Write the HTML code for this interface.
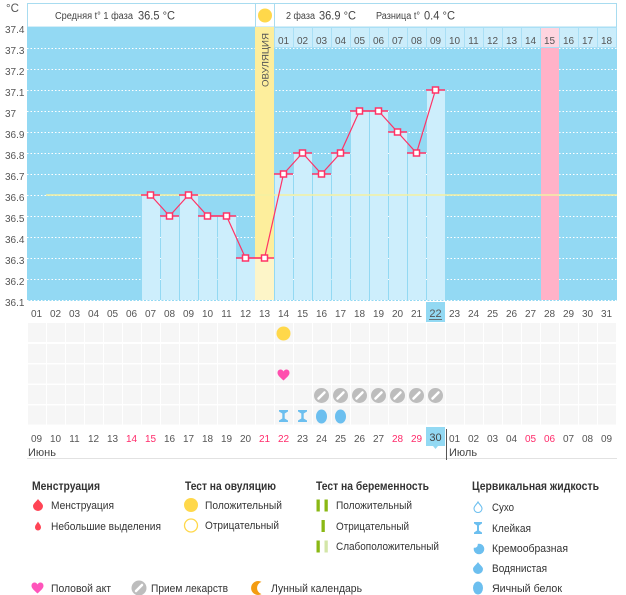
<!DOCTYPE html>
<html><head><meta charset="utf-8"><style>
html,body{margin:0;padding:0;background:#fff;}
svg{display:block;font-family:"Liberation Sans","DejaVu Sans",sans-serif;}
</style></head><body>
<svg width="626" height="595" viewBox="0 0 626 595" xmlns="http://www.w3.org/2000/svg">
<!-- unit -->
<text x="6" y="12" font-size="11.5" fill="#555">°C</text>
<!-- header -->
<rect x="27.5" y="3.5" width="589" height="23.5" fill="#fff" stroke="#a8dcf0"/>
<line x1="255.5" y1="3" x2="255.5" y2="27" stroke="#a8dcf0"/>
<line x1="274.5" y1="3" x2="274.5" y2="27" stroke="#a8dcf0"/>
<text x="55" y="19" font-size="10" fill="#444" textLength="78" lengthAdjust="spacingAndGlyphs">Средняя t° 1 фаза</text>
<text x="138" y="19.5" font-size="12" fill="#444" textLength="37" lengthAdjust="spacingAndGlyphs">36.5 °C</text>
<text x="286" y="19" font-size="10" fill="#444" textLength="29" lengthAdjust="spacingAndGlyphs">2 фаза</text>
<text x="319" y="19.5" font-size="12" fill="#444" textLength="37" lengthAdjust="spacingAndGlyphs">36.9 °C</text>
<text x="376" y="19" font-size="10" fill="#444" textLength="44" lengthAdjust="spacingAndGlyphs">Разница t°</text>
<text x="424" y="19.5" font-size="12" fill="#444" textLength="31" lengthAdjust="spacingAndGlyphs">0.4 °C</text>
<circle cx="265" cy="15.5" r="7" fill="#ffd84a"/>
<!-- plot background -->
<rect x="27" y="27" width="590" height="274" fill="#93d9f3"/>
<g stroke="#ffffff" stroke-width="1" stroke-dasharray="1.5 2">
<line x1="27" y1="48.5" x2="617" y2="48.5"/>
<line x1="27" y1="69.5" x2="617" y2="69.5"/>
<line x1="27" y1="90.5" x2="617" y2="90.5"/>
<line x1="27" y1="111.5" x2="617" y2="111.5"/>
<line x1="27" y1="132.5" x2="617" y2="132.5"/>
<line x1="27" y1="153.5" x2="617" y2="153.5"/>
<line x1="27" y1="174.5" x2="617" y2="174.5"/>
<line x1="27" y1="195.5" x2="617" y2="195.5"/>
<line x1="27" y1="216.5" x2="617" y2="216.5"/>
<line x1="27" y1="237.5" x2="617" y2="237.5"/>
<line x1="27" y1="258.5" x2="617" y2="258.5"/>
<line x1="27" y1="279.5" x2="617" y2="279.5"/>
<line x1="27" y1="300.5" x2="617" y2="300.5"/>
</g>
<!-- top cells row -->
<rect x="274" y="27" width="343" height="21" fill="#aadff5"/>
<g fill="#cbedfb">
<rect x="275" y="28" width="18" height="19"/><rect x="294" y="28" width="18" height="19"/><rect x="313" y="28" width="18" height="19"/><rect x="332" y="28" width="18" height="19"/><rect x="351" y="28" width="18" height="19"/><rect x="370" y="28" width="18" height="19"/><rect x="389" y="28" width="18" height="19"/><rect x="408" y="28" width="18" height="19"/><rect x="427" y="28" width="18" height="19"/><rect x="446" y="28" width="18" height="19"/><rect x="465" y="28" width="18" height="19"/><rect x="484" y="28" width="18" height="19"/><rect x="503" y="28" width="18" height="19"/><rect x="522" y="28" width="18" height="19"/><rect x="560" y="28" width="18" height="19"/><rect x="579" y="28" width="18" height="19"/><rect x="598" y="28" width="18" height="19"/>
</g>
<rect x="541" y="28" width="18" height="19" fill="#ffd5e0"/>
<rect x="541" y="48" width="18" height="252" fill="#ffb2c8"/>
<g font-size="10" fill="#555" text-anchor="middle">
<text x="283.5" y="44">01</text><text x="302.5" y="44">02</text><text x="321.5" y="44">03</text><text x="340.5" y="44">04</text><text x="359.5" y="44">05</text><text x="378.5" y="44">06</text><text x="397.5" y="44">07</text><text x="416.5" y="44">08</text><text x="435.5" y="44">09</text><text x="454.5" y="44">10</text><text x="473.5" y="44">11</text><text x="492.5" y="44">12</text><text x="511.5" y="44">13</text><text x="530.5" y="44">14</text><text x="549.5" y="44">15</text><text x="568.5" y="44">16</text><text x="587.5" y="44">17</text><text x="606.5" y="44">18</text>
</g>
<!-- ovulation column -->
<rect x="255" y="27" width="19" height="231" fill="#fdee9c"/>
<rect x="255" y="258" width="19" height="42" fill="#fdf5c8"/>
<text transform="translate(268.5,87) rotate(-90)" font-size="9.5" fill="#555" textLength="54" lengthAdjust="spacingAndGlyphs">ОВУЛЯЦИЯ</text>
<!-- bars -->
<g fill="#cdeefc">
<rect x="142" y="195" width="18" height="105"/>
<rect x="161" y="216" width="18" height="84"/>
<rect x="180" y="195" width="18" height="105"/>
<rect x="199" y="216" width="18" height="84"/>
<rect x="218" y="216" width="18" height="84"/>
<rect x="237" y="258" width="18" height="42"/>
<rect x="275" y="174" width="18" height="126"/>
<rect x="294" y="153" width="18" height="147"/>
<rect x="313" y="174" width="18" height="126"/>
<rect x="332" y="153" width="18" height="147"/>
<rect x="351" y="111" width="18" height="189"/>
<rect x="370" y="111" width="18" height="189"/>
<rect x="389" y="132" width="18" height="168"/>
<rect x="408" y="153" width="18" height="147"/>
<rect x="427" y="90" width="18" height="210"/>
</g>
<!-- cover line -->
<line x1="46" y1="195" x2="617" y2="195" stroke="#f4f0a2" stroke-width="1.5"/>
<!-- bar tops -->
<g stroke="#ff3366" stroke-width="1.5">
<line x1="141" y1="195" x2="160" y2="195"/>
<line x1="160" y1="216" x2="179" y2="216"/>
<line x1="179" y1="195" x2="198" y2="195"/>
<line x1="198" y1="216" x2="217" y2="216"/>
<line x1="217" y1="216" x2="236" y2="216"/>
<line x1="236" y1="258" x2="255" y2="258"/>
<line x1="255" y1="258" x2="274" y2="258"/>
<line x1="274" y1="174" x2="293" y2="174"/>
<line x1="293" y1="153" x2="312" y2="153"/>
<line x1="312" y1="174" x2="331" y2="174"/>
<line x1="331" y1="153" x2="350" y2="153"/>
<line x1="350" y1="111" x2="369" y2="111"/>
<line x1="369" y1="111" x2="388" y2="111"/>
<line x1="388" y1="132" x2="407" y2="132"/>
<line x1="407" y1="153" x2="426" y2="153"/>
<line x1="426" y1="90" x2="445" y2="90"/>
</g>
<polyline fill="none" stroke="#ff3366" stroke-width="1.2" points="150.5,195 169.5,216 188.5,195 207.5,216 226.5,216 245.5,258 264.5,258 283.5,174 302.5,153 321.5,174 340.5,153 359.5,111 378.5,111 397.5,132 416.5,153 435.5,90"/>
<g fill="#fff" stroke="#ff3366" stroke-width="1.5">
<rect x="147.5" y="192" width="6" height="6"/><rect x="166.5" y="213" width="6" height="6"/><rect x="185.5" y="192" width="6" height="6"/><rect x="204.5" y="213" width="6" height="6"/><rect x="223.5" y="213" width="6" height="6"/><rect x="242.5" y="255" width="6" height="6"/><rect x="261.5" y="255" width="6" height="6"/><rect x="280.5" y="171" width="6" height="6"/><rect x="299.5" y="150" width="6" height="6"/><rect x="318.5" y="171" width="6" height="6"/><rect x="337.5" y="150" width="6" height="6"/><rect x="356.5" y="108" width="6" height="6"/><rect x="375.5" y="108" width="6" height="6"/><rect x="394.5" y="129" width="6" height="6"/><rect x="413.5" y="150" width="6" height="6"/><rect x="432.5" y="87" width="6" height="6"/>
</g>
<!-- y labels -->
<g font-size="10" fill="#555">
<text x="5" y="33">37.4</text><text x="5" y="54">37.3</text><text x="5" y="75">37.2</text><text x="5" y="96">37.1</text><text x="5" y="117">37</text><text x="5" y="138">36.9</text><text x="5" y="159">36.8</text><text x="5" y="180">36.7</text><text x="5" y="201">36.6</text><text x="5" y="222">36.5</text><text x="5" y="243">36.4</text><text x="5" y="264">36.3</text><text x="5" y="285">36.2</text><text x="5" y="306">36.1</text>
</g>
<!-- bottom day row 1 -->
<rect x="426" y="302" width="19" height="20" fill="#93d9f3"/>
<g font-size="10" fill="#555" text-anchor="middle">
<text x="36.5" y="317">01</text><text x="55.5" y="317">02</text><text x="74.5" y="317">03</text><text x="93.5" y="317">04</text><text x="112.5" y="317">05</text><text x="131.5" y="317">06</text><text x="150.5" y="317">07</text><text x="169.5" y="317">08</text><text x="188.5" y="317">09</text><text x="207.5" y="317">10</text><text x="226.5" y="317">11</text><text x="245.5" y="317">12</text><text x="264.5" y="317">13</text><text x="283.5" y="317">14</text><text x="302.5" y="317">15</text><text x="321.5" y="317">16</text><text x="340.5" y="317">17</text><text x="359.5" y="317">18</text><text x="378.5" y="317">19</text><text x="397.5" y="317">20</text><text x="416.5" y="317">21</text><text x="435.5" y="317" font-size="11">22</text><text x="454.5" y="317">23</text><text x="473.5" y="317">24</text><text x="492.5" y="317">25</text><text x="511.5" y="317">26</text><text x="530.5" y="317">27</text><text x="549.5" y="317">28</text><text x="568.5" y="317">29</text><text x="587.5" y="317">30</text><text x="606.5" y="317">31</text>
</g>
<line x1="429" y1="319.5" x2="442" y2="319.5" stroke="#555" stroke-width="0.8"/>
<!-- icon grid -->
<defs>
<pattern id="rowcells" x="27" y="0" width="19" height="595" patternUnits="userSpaceOnUse">
<rect x="1" y="0" width="18" height="595" fill="#f6f6f6"/>
</pattern>
</defs>
<rect x="27" y="323" width="589" height="19" fill="url(#rowcells)"/>
<rect x="27" y="344" width="589" height="19" fill="url(#rowcells)"/>
<rect x="27" y="364.5" width="589" height="19" fill="url(#rowcells)"/>
<rect x="27" y="385" width="589" height="19" fill="url(#rowcells)"/>
<rect x="27" y="405.5" width="589" height="19" fill="url(#rowcells)"/>
<!-- row icons -->
<circle cx="283.5" cy="333.5" r="7" fill="#ffd84a"/>
<path d="M283.5,380.5 C281.5,378.5 277.5,375.5 277.5,373 C277.5,370.5 279,369.5 280.5,369.5 C282,369.5 283,370.5 283.5,371.5 C284,370.5 285,369.5 286.5,369.5 C288,369.5 289.5,370.5 289.5,373 C289.5,375.5 285.5,378.5 283.5,380.5 Z" fill="#ff4fae"/>
<g>
<circle cx="321.5" cy="395.5" r="7.5" fill="#bdbdbd"/><circle cx="340.5" cy="395.5" r="7.5" fill="#bdbdbd"/><circle cx="359.5" cy="395.5" r="7.5" fill="#bdbdbd"/><circle cx="378.5" cy="395.5" r="7.5" fill="#bdbdbd"/><circle cx="397.5" cy="395.5" r="7.5" fill="#bdbdbd"/><circle cx="416.5" cy="395.5" r="7.5" fill="#bdbdbd"/><circle cx="435.5" cy="395.5" r="7.5" fill="#bdbdbd"/>
</g>
<g stroke="#fff" stroke-width="2.5" stroke-linecap="round">
<line x1="318.5" y1="398.5" x2="324.5" y2="392.5"/><line x1="337.5" y1="398.5" x2="343.5" y2="392.5"/><line x1="356.5" y1="398.5" x2="362.5" y2="392.5"/><line x1="375.5" y1="398.5" x2="381.5" y2="392.5"/><line x1="394.5" y1="398.5" x2="400.5" y2="392.5"/><line x1="413.5" y1="398.5" x2="419.5" y2="392.5"/><line x1="432.5" y1="398.5" x2="438.5" y2="392.5"/>
</g>
<g fill="#6cbfef">
<polygon points="279,410 288,410 288,411.5 284.7,413.5 284.7,418.5 288,420.5 288,422 279,422 279,420.5 282.3,418.5 282.3,413.5 279,411.5"/>
<polygon points="298,410 307,410 307,411.5 303.7,413.5 303.7,418.5 307,420.5 307,422 298,422 298,420.5 301.3,418.5 301.3,413.5 298,411.5"/>
<ellipse cx="321.5" cy="416.5" rx="5.5" ry="7"/>
<ellipse cx="340.5" cy="416.5" rx="5.5" ry="7"/>
</g>
<!-- bottom day row 2 -->
<rect x="426" y="427" width="19" height="19" fill="#93d9f3"/>
<polygon points="433,446 438,446 435.5,449" fill="#93d9f3"/>
<g font-size="10" fill="#555" text-anchor="middle">
<text x="36.5" y="442">09</text><text x="55.5" y="442">10</text><text x="74.5" y="442">11</text><text x="93.5" y="442">12</text><text x="112.5" y="442">13</text><text x="131.5" y="442" fill="#ff2a6a">14</text><text x="150.5" y="442" fill="#ff2a6a">15</text><text x="169.5" y="442">16</text><text x="188.5" y="442">17</text><text x="207.5" y="442">18</text><text x="226.5" y="442">19</text><text x="245.5" y="442">20</text><text x="264.5" y="442" fill="#ff2a6a">21</text><text x="283.5" y="442" fill="#ff2a6a">22</text><text x="302.5" y="442">23</text><text x="321.5" y="442">24</text><text x="340.5" y="442">25</text><text x="359.5" y="442">26</text><text x="378.5" y="442">27</text><text x="397.5" y="442" fill="#ff2a6a">28</text><text x="416.5" y="442" fill="#ff2a6a">29</text><text x="435.5" y="441" font-size="11" fill="#444">30</text><text x="454.5" y="442">01</text><text x="473.5" y="442">02</text><text x="492.5" y="442">03</text><text x="511.5" y="442">04</text><text x="530.5" y="442" fill="#ff2a6a">05</text><text x="549.5" y="442" fill="#ff2a6a">06</text><text x="568.5" y="442">07</text><text x="587.5" y="442">08</text><text x="606.5" y="442">09</text>
</g>
<line x1="27" y1="458.5" x2="617" y2="458.5" stroke="#e2e2e2"/>
<line x1="446.5" y1="429" x2="446.5" y2="460" stroke="#555"/>
<text x="28" y="456" font-size="11" fill="#444">Июнь</text>
<text x="449" y="456" font-size="11" fill="#444">Июль</text>
<!-- legend headers -->
<g font-size="11.5" font-weight="bold" fill="#333">
<text x="32" y="490" textLength="68" lengthAdjust="spacingAndGlyphs">Менструация</text>
<text x="185" y="490" textLength="91" lengthAdjust="spacingAndGlyphs">Тест на овуляцию</text>
<text x="316" y="490" textLength="113" lengthAdjust="spacingAndGlyphs">Тест на беременность</text>
<text x="472" y="490" textLength="127" lengthAdjust="spacingAndGlyphs">Цервикальная жидкость</text>
</g>
<g font-size="11" fill="#333">
<text x="51" y="509" textLength="63" lengthAdjust="spacingAndGlyphs">Менструация</text>
<text x="51" y="530" textLength="110" lengthAdjust="spacingAndGlyphs">Небольшие выделения</text>
<text x="205" y="509" textLength="77" lengthAdjust="spacingAndGlyphs">Положительный</text>
<text x="205" y="529" textLength="74" lengthAdjust="spacingAndGlyphs">Отрицательный</text>
<text x="336" y="509" textLength="76" lengthAdjust="spacingAndGlyphs">Положительный</text>
<text x="336" y="530" textLength="73" lengthAdjust="spacingAndGlyphs">Отрицательный</text>
<text x="336" y="550" textLength="103" lengthAdjust="spacingAndGlyphs">Слабоположительный</text>
<text x="492" y="511" textLength="22" lengthAdjust="spacingAndGlyphs">Сухо</text>
<text x="492" y="532" textLength="39" lengthAdjust="spacingAndGlyphs">Клейкая</text>
<text x="492" y="552" textLength="76" lengthAdjust="spacingAndGlyphs">Кремообразная</text>
<text x="492" y="572" textLength="55" lengthAdjust="spacingAndGlyphs">Водянистая</text>
<text x="492" y="592" textLength="70" lengthAdjust="spacingAndGlyphs">Яичный белок</text>
<text x="51" y="592" textLength="60" lengthAdjust="spacingAndGlyphs">Половой акт</text>
<text x="151" y="592" textLength="77" lengthAdjust="spacingAndGlyphs">Прием лекарств</text>
<text x="271" y="592" textLength="91" lengthAdjust="spacingAndGlyphs">Лунный календарь</text>
</g>
<!-- legend icons -->
<path d="M38,499 C39.5,501.5 43,503.5 43,506 A5,5 0 0 1 33,506 C33,503.5 36.5,501.5 38,499 Z" fill="#ff4455"/>
<path d="M38,521.5 C39,523.5 41,525 41,527.5 A3,3 0 0 1 35,527.5 C35,525 37,523.5 38,521.5 Z" fill="#ff4455"/>
<circle cx="191" cy="505" r="7" fill="#ffd84a"/>
<circle cx="191" cy="525.5" r="6.5" fill="#fff" stroke="#ffd84a" stroke-width="1.3"/>
<g fill="#8ab814">
<rect x="316.5" y="499.5" width="3.3" height="12"/><rect x="324.5" y="499.5" width="3.3" height="12"/>
<rect x="321.5" y="520" width="3.3" height="12"/>
<rect x="316.5" y="540.5" width="3.3" height="12"/>
</g>
<rect x="324.5" y="540.5" width="3.3" height="12" fill="#d3e6a8"/>
<path d="M478,502 C479,504 482,506 482,508.5 A4,4 0 0 1 474,508.5 C474,506 477,504 478,502 Z" fill="#fff" stroke="#6cbfef" stroke-width="1.1"/>
<polygon points="474,522 482,522 482,523.5 479,525.5 479,530.5 482,532.5 482,534 474,534 474,532.5 477,530.5 477,525.5 474,523.5" fill="#6cbfef"/>
<circle cx="479" cy="549" r="5.3" fill="#6cbfef"/>
<circle cx="474.5" cy="544.5" r="3.3" fill="#fff"/>
<path d="M478,562 C479.2,564.5 483,566.5 483,569 A5,5 0 0 1 473,569 C473,566.5 476.8,564.5 478,562 Z" fill="#6cbfef"/>
<ellipse cx="478" cy="588" rx="5" ry="6.5" fill="#6cbfef"/>
<path d="M37.5,593.5 C35.5,591.5 31.5,588.5 31.5,586 C31.5,583.5 33,582.5 34.5,582.5 C36,582.5 37,583.5 37.5,584.5 C38,583.5 39,582.5 40.5,582.5 C42,582.5 43.5,583.5 43.5,586 C43.5,588.5 39.5,591.5 37.5,593.5 Z" fill="#ff55bb"/>
<circle cx="139" cy="588" r="7.5" fill="#bdbdbd"/>
<line x1="136" y1="591" x2="142" y2="585" stroke="#fff" stroke-width="2.5" stroke-linecap="round"/>
<path d="M261.5,581.9 A7,7 0 1 0 261.5,594.1 A6.4,6.4 0 0 1 261.5,581.9 Z" fill="#f39c12"/>
</svg>
</body></html>
